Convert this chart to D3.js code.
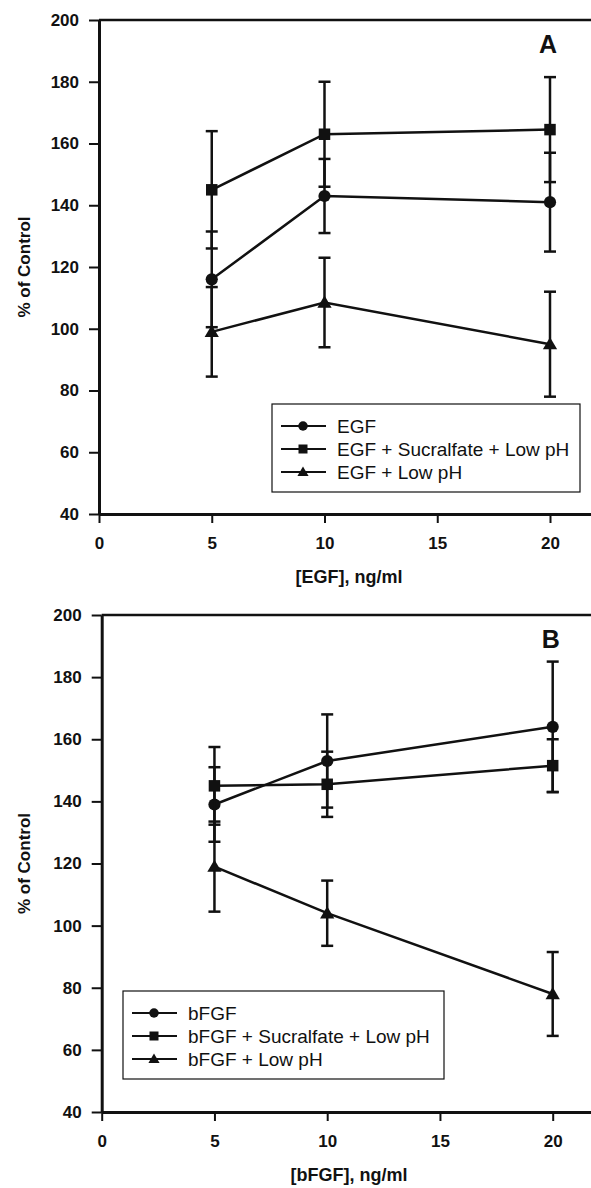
<!DOCTYPE html>
<html>
<head>
<meta charset="utf-8">
<script src="https://cdn.jsdelivr.net/npm/d3@7"></script>
<style>
  body { margin: 0; background: #fff; }
  svg text { font-family: "Liberation Sans", Arial, sans-serif; font-weight: bold; fill: #111; }
</style>
</head>
<body>
<script>
// Chart data
var doses = [5, 10, 20];
var yTicks = [40, 60, 80, 100, 120, 140, 160, 180, 200];
var xTicks = [0, 5, 10, 15, 20];

// Panel A: EGF
var egfNames = ["EGF", "EGF + Sucralfate + Low pH", "EGF + Low pH"];
var egfMean = [116, 143, 141];
var egfErr = [15.5, 12, 16];
var egfSucMean = [145, 163, 164.5];
var egfSucErr = [19, 17, 17];
var egfLowMean = [99, 108.5, 95];
var egfLowErr = [14.5, 14.5, 17];

// Panel B: bFGF
var fgfNames = ["bFGF", "bFGF + Sucralfate + Low pH", "bFGF + Low pH"];
var fgfMean = [139, 153, 164];
var fgfErr = [12, 15, 21];
var fgfSucMean = [145, 145.5, 151.5];
var fgfSucErr = [12.5, 10.5, 8.5];
var fgfLowMean = [119, 104, 78];
var fgfLowErr = [14.5, 10.5, 13.5];

var shapes = ["circle", "square", "triangle"];
var pxPerUnit = 22.55;   // horizontal spacing of the x axis
var svgWidth = 591;

var svg = d3.select("body")
  .append("svg")
  .attr("width", svgWidth)
  .attr("height", 1188);

// draws one marker at (x, y)
function marker(g, shape, x, y, s) {
  if (shape === "circle") {
    g.append("circle").attr("cx", x).attr("cy", y).attr("r", s * 0.53).attr("fill", "#111");
  } else if (shape === "square") {
    g.append("rect").attr("x", x - s / 2).attr("y", y - s / 2)
      .attr("width", s).attr("height", s).attr("fill", "#111");
  } else {
    g.append("path")
      .attr("d", `M${x},${y - s * 0.6}L${x + s * 0.62},${y + s * 0.45}L${x - s * 0.62},${y + s * 0.45}Z`)
      .attr("fill", "#111");
  }
}

function drawPanel(p) {
  var x = d3.scaleLinear()
    .domain([0, (svgWidth - p.left) / pxPerUnit])
    .range([p.left, svgWidth]);
  var y = d3.scaleLinear().domain([40, 200]).range([p.bottom, p.top]);
  var g = svg.append("g");

  // Top frame line
  g.append("line")
    .attr("x1", p.left).attr("x2", svgWidth)
    .attr("y1", p.top).attr("y2", p.top)
    .attr("stroke", "#111").attr("stroke-width", 2.5);

  // Y axis
  var yAxis = g.append("g")
    .attr("transform", `translate(${p.left},0)`)
    .call(d3.axisLeft(y).tickValues(yTicks).tickSize(10).tickPadding(10).tickSizeOuter(0));
  yAxis.select(".domain").attr("stroke", "#111").attr("stroke-width", 3);
  yAxis.selectAll(".tick line").attr("stroke", "#111").attr("stroke-width", 2);
  yAxis.selectAll(".tick text").style("font-size", "17px").attr("fill", "#111");

  // X axis
  var xAxis = g.append("g")
    .attr("transform", `translate(0,${p.bottom})`)
    .call(d3.axisBottom(x).tickValues(xTicks).tickSize(9).tickPadding(14).tickSizeOuter(0));
  xAxis.select(".domain").attr("stroke", "#111").attr("stroke-width", 3);
  xAxis.selectAll(".tick line").attr("stroke", "#111").attr("stroke-width", 2);
  xAxis.selectAll(".tick text").style("font-size", "17px").attr("fill", "#111");

  // Axis titles
  g.append("text")
    .attr("transform", `translate(30,${(p.top + p.bottom) / 2}) rotate(-90)`)
    .attr("text-anchor", "middle")
    .style("font-size", "17px")
    .text("% of Control");

  g.append("text")
    .attr("x", 349).attr("y", p.bottom + 69)
    .attr("text-anchor", "middle")
    .style("font-size", "18px")
    .text(p.xTitle);

  // Panel letter
  g.append("text")
    .attr("x", x(20) - 2).attr("y", p.top + 33)
    .attr("text-anchor", "middle")
    .style("font-size", "25px")
    .text(p.letter);

  // Series
  p.series.forEach(function(s, i) {
    var pts = doses.map((d, j) => ({ x: d, m: s.mean[j], e: s.err[j] }));

    // error bars
    pts.forEach(function(d) {
      var cx = x(d.x);
      g.append("line").attr("x1", cx).attr("x2", cx)
        .attr("y1", y(d.m - d.e)).attr("y2", y(d.m + d.e))
        .attr("stroke", "#111").attr("stroke-width", 2.5);
      [d.m - d.e, d.m + d.e].forEach(function(v) {
        g.append("line").attr("x1", cx - 6).attr("x2", cx + 6)
          .attr("y1", y(v)).attr("y2", y(v))
          .attr("stroke", "#111").attr("stroke-width", 2.5);
      });
    });

    var line = d3.line().x(d => x(d.x)).y(d => y(d.m));
    g.append("path")
      .attr("d", line(pts))
      .attr("fill", "none")
      .attr("stroke", "#111")
      .attr("stroke-width", 2.5);

    pts.forEach(d => marker(g, shapes[i], x(d.x), y(d.m), 11.5));
  });

  // Legend
  var lg = g.append("g");
  lg.append("rect")
    .attr("x", p.legend.x).attr("y", p.legend.y)
    .attr("width", p.legend.w).attr("height", 88)
    .attr("fill", "#fff").attr("stroke", "#111").attr("stroke-width", 1.2);

  p.series.forEach(function(s, i) {
    var ry = p.legend.y + 22 + i * 23;
    var lx = p.legend.x + 9;
    lg.append("line")
      .attr("x1", lx).attr("x2", lx + 45)
      .attr("y1", ry).attr("y2", ry)
      .attr("stroke", "#111").attr("stroke-width", 2);
    marker(lg, shapes[i], lx + 22, ry, 9);
    lg.append("text")
      .attr("x", lx + 56).attr("y", ry + 6.5)
      .style("font-size", "19px")
      .style("font-weight", "normal")
      .text(s.name);
  });
}

drawPanel({
  top: 20, bottom: 514, left: 99,
  letter: "A", xTitle: "[EGF], ng/ml",
  legend: { x: 272, y: 404, w: 308 },
  series: [
    { name: egfNames[0], mean: egfMean, err: egfErr },
    { name: egfNames[1], mean: egfSucMean, err: egfSucErr },
    { name: egfNames[2], mean: egfLowMean, err: egfLowErr }
  ]
});

drawPanel({
  top: 615, bottom: 1112, left: 101.7,
  letter: "B", xTitle: "[bFGF], ng/ml",
  legend: { x: 123, y: 991, w: 321 },
  series: [
    { name: fgfNames[0], mean: fgfMean, err: fgfErr },
    { name: fgfNames[1], mean: fgfSucMean, err: fgfSucErr },
    { name: fgfNames[2], mean: fgfLowMean, err: fgfLowErr }
  ]
});
</script>
</body>
</html>
